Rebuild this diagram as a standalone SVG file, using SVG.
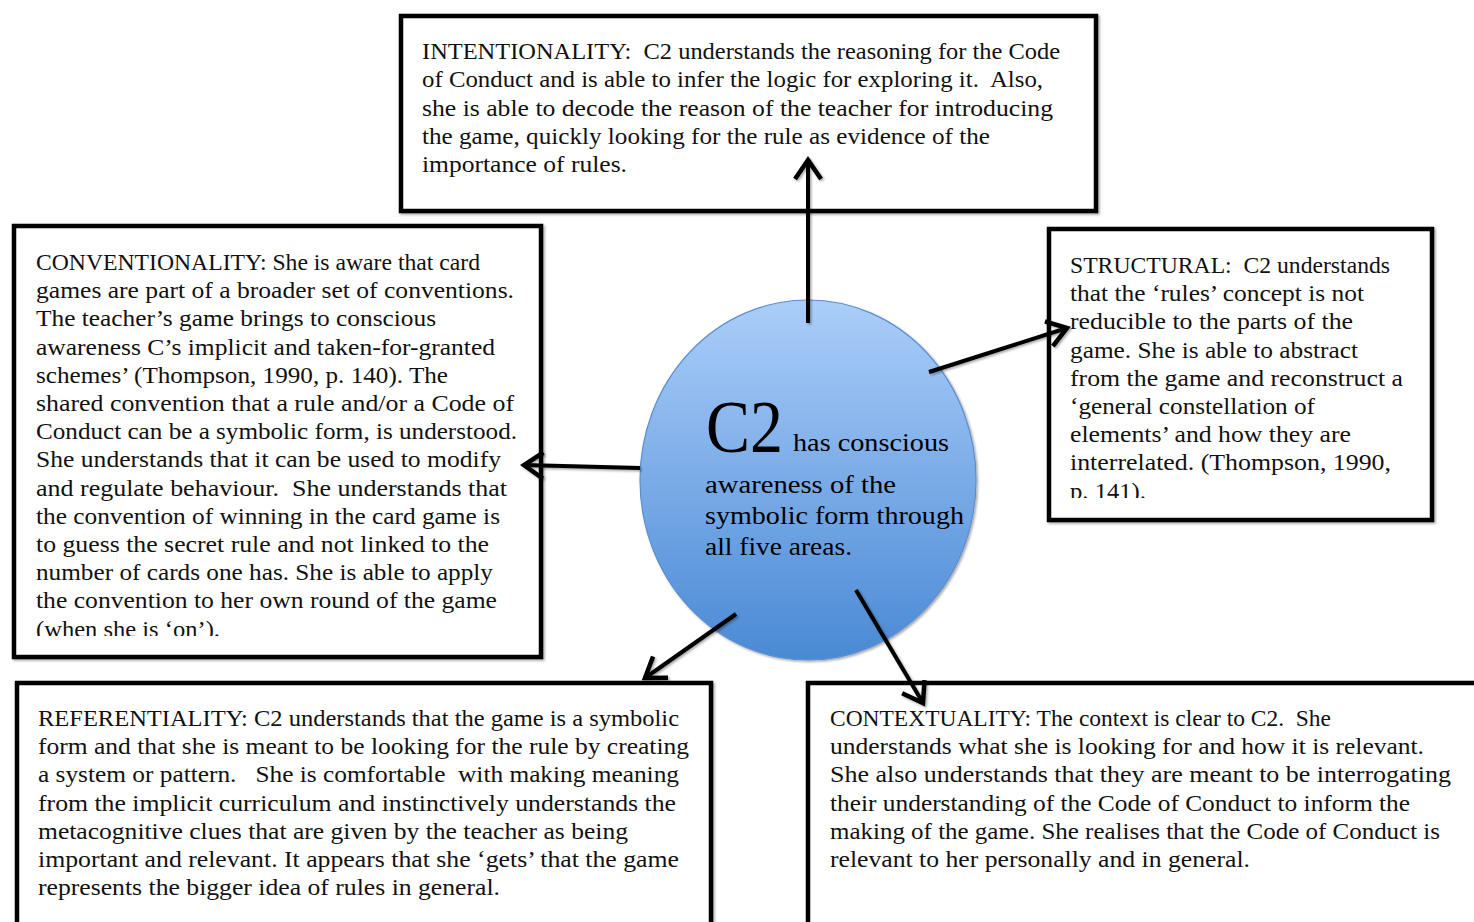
<svg xmlns="http://www.w3.org/2000/svg" width="1474" height="922" viewBox="0 0 1474 922">
<style>
.box{fill:#fff;stroke:#000;stroke-width:4.5;filter:url(#sh)}
.t{font-family:"Liberation Serif","Times New Roman",serif;font-size:24px;fill:#111;white-space:pre}
.c{font-family:"Liberation Serif","Times New Roman",serif;fill:#000}
.con{fill:none;stroke:#000;stroke-width:4;marker-end:url(#ah);filter:url(#sh)}
</style>
<defs>
<linearGradient id="g" x1="0" y1="0" x2="0" y2="1">
<stop offset="0" stop-color="#abcef9"/>
<stop offset="1" stop-color="#4a89d5"/>
</linearGradient>
<filter id="sh" filterUnits="userSpaceOnUse" x="0" y="0" width="1474" height="922">
<feDropShadow dx="1.5" dy="1.5" stdDeviation="1.2" flood-color="#000" flood-opacity="0.35"/>
</filter>
<marker id="ah" markerUnits="userSpaceOnUse" markerWidth="40" markerHeight="40" refX="0" refY="0" viewBox="-30 -20 40 40" orient="auto">
<path d="M-19,-13 L0,0 L-19,13" fill="none" stroke="#000" stroke-width="4.5" stroke-linejoin="miter"/>
</marker>
<clipPath id="clipL"><rect x="16" y="228" width="523" height="408"/></clipPath>
<clipPath id="clipS"><rect x="1051" y="231" width="379" height="267"/></clipPath>
</defs>
<rect width="1474" height="922" fill="#fff"/>

<g id="intentionality">
<rect class="box" x="401" y="16" width="695" height="195"/>
<text class="t">
<tspan xml:space="preserve" x="422" y="59" textLength="638" lengthAdjust="spacingAndGlyphs">INTENTIONALITY:  C2 understands the reasoning for the Code</tspan>
<tspan xml:space="preserve" x="422" y="87.3" textLength="621" lengthAdjust="spacingAndGlyphs">of Conduct and is able to infer the logic for exploring it.  Also,</tspan>
<tspan x="422" y="115.6" textLength="631" lengthAdjust="spacingAndGlyphs">she is able to decode the reason of the teacher for introducing</tspan>
<tspan x="422" y="143.9" textLength="568" lengthAdjust="spacingAndGlyphs">the game, quickly looking for the rule as evidence of the</tspan>
<tspan x="422" y="172.2" textLength="205" lengthAdjust="spacingAndGlyphs">importance of rules.</tspan>
</text>
</g>

<g id="conventionality">
<rect class="box" x="14" y="226" width="527" height="431"/>
<g clip-path="url(#clipL)">
<text class="t">
<tspan x="36" y="270" textLength="444" lengthAdjust="spacingAndGlyphs">CONVENTIONALITY: She is aware that card</tspan>
<tspan x="36" y="298.2" textLength="478" lengthAdjust="spacingAndGlyphs">games are part of a broader set of conventions.</tspan>
<tspan x="36" y="326.4" textLength="400" lengthAdjust="spacingAndGlyphs">The teacher’s game brings to conscious</tspan>
<tspan x="36" y="354.6" textLength="459" lengthAdjust="spacingAndGlyphs">awareness C’s implicit and taken-for-granted</tspan>
<tspan x="36" y="382.8" textLength="412" lengthAdjust="spacingAndGlyphs">schemes’ (Thompson, 1990, p. 140). The</tspan>
<tspan x="36" y="411" textLength="478" lengthAdjust="spacingAndGlyphs">shared convention that a rule and/or a Code of</tspan>
<tspan x="36" y="439.2" textLength="481" lengthAdjust="spacingAndGlyphs">Conduct can be a symbolic form, is understood.</tspan>
<tspan x="36" y="467.4" textLength="465" lengthAdjust="spacingAndGlyphs">She understands that it can be used to modify</tspan>
<tspan xml:space="preserve" x="36" y="495.6" textLength="471" lengthAdjust="spacingAndGlyphs">and regulate behaviour.  She understands that</tspan>
<tspan x="36" y="523.8" textLength="464" lengthAdjust="spacingAndGlyphs">the convention of winning in the card game is</tspan>
<tspan x="36" y="552" textLength="453" lengthAdjust="spacingAndGlyphs">to guess the secret rule and not linked to the</tspan>
<tspan x="36" y="580.2" textLength="457" lengthAdjust="spacingAndGlyphs">number of cards one has. She is able to apply</tspan>
<tspan x="36" y="608.4" textLength="461" lengthAdjust="spacingAndGlyphs">the convention to her own round of the game</tspan>
<tspan x="36" y="636.6" textLength="184" lengthAdjust="spacingAndGlyphs">(when she is ‘on’).</tspan>
</text>
</g>
</g>

<g id="structural">
<rect class="box" x="1049" y="229" width="383" height="291"/>
<g clip-path="url(#clipS)">
<text class="t">
<tspan xml:space="preserve" x="1070" y="273" textLength="320" lengthAdjust="spacingAndGlyphs">STRUCTURAL:  C2 understands</tspan>
<tspan x="1070" y="301.2" textLength="294" lengthAdjust="spacingAndGlyphs">that the ‘rules’ concept is not</tspan>
<tspan x="1070" y="329.4" textLength="283" lengthAdjust="spacingAndGlyphs">reducible to the parts of the</tspan>
<tspan x="1070" y="357.6" textLength="288" lengthAdjust="spacingAndGlyphs">game. She is able to abstract</tspan>
<tspan x="1070" y="385.8" textLength="333" lengthAdjust="spacingAndGlyphs">from the game and reconstruct a</tspan>
<tspan x="1070" y="414" textLength="245" lengthAdjust="spacingAndGlyphs">‘general constellation of</tspan>
<tspan x="1070" y="442.2" textLength="281" lengthAdjust="spacingAndGlyphs">elements’ and how they are</tspan>
<tspan x="1070" y="470.4" textLength="321" lengthAdjust="spacingAndGlyphs">interrelated. (Thompson, 1990,</tspan>
<tspan x="1070" y="498.6" textLength="76" lengthAdjust="spacingAndGlyphs">p. 141).</tspan>
</text>
</g>
</g>

<g id="referentiality">
<rect class="box" x="17" y="683" width="694" height="260"/>
<text class="t">
<tspan x="38" y="726" textLength="641" lengthAdjust="spacingAndGlyphs">REFERENTIALITY: C2 understands that the game is a symbolic</tspan>
<tspan x="38" y="754.2" textLength="651" lengthAdjust="spacingAndGlyphs">form and that she is meant to be looking for the rule by creating</tspan>
<tspan xml:space="preserve" x="38" y="782.4" textLength="641" lengthAdjust="spacingAndGlyphs">a system or pattern.   She is comfortable  with making meaning</tspan>
<tspan x="38" y="810.6" textLength="638" lengthAdjust="spacingAndGlyphs">from the implicit curriculum and instinctively understands the</tspan>
<tspan x="38" y="838.8" textLength="590" lengthAdjust="spacingAndGlyphs">metacognitive clues that are given by the teacher as being</tspan>
<tspan x="38" y="867" textLength="641" lengthAdjust="spacingAndGlyphs">important and relevant. It appears that she ‘gets’ that the game</tspan>
<tspan x="38" y="895.2" textLength="462" lengthAdjust="spacingAndGlyphs">represents the bigger idea of rules in general.</tspan>
</text>
</g>

<g id="contextuality">
<rect class="box" x="808" y="683" width="700" height="260"/>
<text class="t">
<tspan xml:space="preserve" x="830" y="726" textLength="501" lengthAdjust="spacingAndGlyphs">CONTEXTUALITY: The context is clear to C2.  She</tspan>
<tspan x="830" y="754.2" textLength="594" lengthAdjust="spacingAndGlyphs">understands what she is looking for and how it is relevant.</tspan>
<tspan x="830" y="782.4" textLength="621" lengthAdjust="spacingAndGlyphs">She also understands that they are meant to be interrogating</tspan>
<tspan x="830" y="810.6" textLength="580" lengthAdjust="spacingAndGlyphs">their understanding of the Code of Conduct to inform the</tspan>
<tspan x="830" y="838.8" textLength="610" lengthAdjust="spacingAndGlyphs">making of the game. She realises that the Code of Conduct is</tspan>
<tspan x="830" y="867" textLength="420" lengthAdjust="spacingAndGlyphs">relevant to her personally and in general.</tspan>
</text>
</g>

<g id="center">
<ellipse cx="808" cy="480" rx="168" ry="180" fill="url(#g)" stroke="#5b8fd0" stroke-width="1.2" filter="url(#sh)"/>
<text class="c" x="706" y="452" font-size="74" textLength="77" lengthAdjust="spacingAndGlyphs">C2</text>
<text class="c" font-size="26">
<tspan x="793" y="451" textLength="156" lengthAdjust="spacingAndGlyphs">has conscious</tspan>
<tspan x="705" y="493" textLength="191" lengthAdjust="spacingAndGlyphs">awareness of the</tspan>
<tspan x="705" y="524" textLength="259" lengthAdjust="spacingAndGlyphs">symbolic form through</tspan>
<tspan x="705" y="555" textLength="147" lengthAdjust="spacingAndGlyphs">all five areas.</tspan>
</text>
</g>

<g id="connectors">
<path class="con" d="M808,323 L808,160"/>
<path class="con" d="M929,372 L1067,328"/>
<path class="con" d="M640,468 L524,465"/>
<path class="con" d="M736,614 L645,678"/>
<path class="con" d="M856,590 L923,703"/>
</g>
</svg>
